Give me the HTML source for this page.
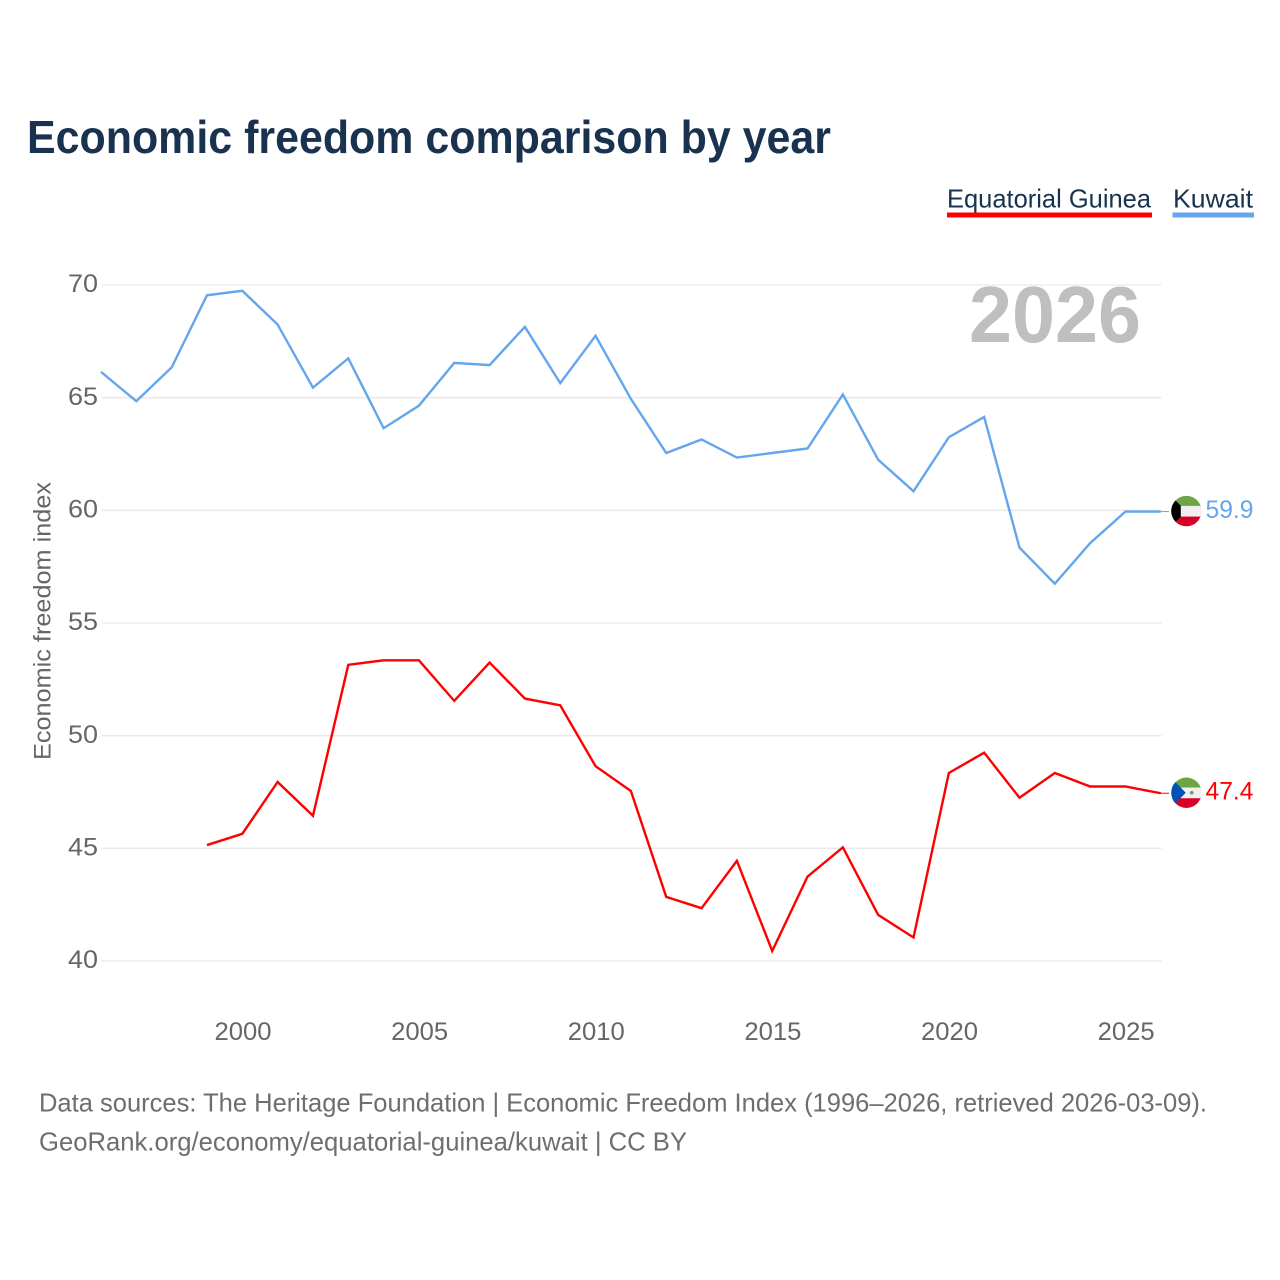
<!DOCTYPE html>
<html lang="en">
<head>
<meta charset="utf-8">
<title>Economic freedom comparison by year</title>
<style>
html,body{margin:0;padding:0;background:#fff;}
svg{display:block;font-family:"Liberation Sans",sans-serif;}
</style>
</head>
<body>
<svg id="chart" xmlns="http://www.w3.org/2000/svg" width="1280" height="1280" viewBox="0 0 1280 1280">
  <rect x="0" y="0" width="1280" height="1280" fill="#fff"/>
  <text x="27" y="152.8" font-size="46" font-weight="700" fill="#18324f" textLength="804" lengthAdjust="spacingAndGlyphs">Economic freedom comparison by year</text>

  <g>
    <text x="947" y="207.5" font-size="26" fill="#18324f" textLength="204" lengthAdjust="spacingAndGlyphs">Equatorial Guinea</text>
    <rect x="947" y="212.5" width="205" height="5" fill="#ff0000"/>
  </g>
  <g>
    <text x="1173" y="207.5" font-size="26" fill="#18324f" textLength="80" lengthAdjust="spacingAndGlyphs">Kuwait</text>
    <rect x="1172.5" y="212.5" width="81.5" height="5" fill="#64a6ec"/>
  </g>

  <g id="grid"></g>
  <g id="yticks"></g>
  <g id="xticks"></g>

  <text transform="translate(50.5,621) rotate(-90)" text-anchor="middle" font-size="24.5" fill="#666666" textLength="278" lengthAdjust="spacingAndGlyphs">Economic freedom index</text>

  <text x="969" y="342" font-size="80" font-weight="700" fill="#bfbfbf" textLength="172" lengthAdjust="spacingAndGlyphs">2026</text>

  <g id="series"></g>
  <g id="ends"></g>

  <g>
    <text x="39" y="1111.5" font-size="26" fill="#6e6e6e" textLength="1168" lengthAdjust="spacingAndGlyphs">Data sources: The Heritage Foundation | Economic Freedom Index (1996–2026, retrieved 2026-03-09).</text>
    <text x="39" y="1150.5" font-size="26" fill="#6e6e6e" textLength="648" lengthAdjust="spacingAndGlyphs">GeoRank.org/economy/equatorial-guinea/kuwait | CC BY</text>
  </g>
</svg>
<script>
const years = [1996,1997,1998,1999,2000,2001,2002,2003,2004,2005,2006,2007,2008,2009,2010,2011,2012,2013,2014,2015,2016,2017,2018,2019,2020,2021,2022,2023,2024,2025,2026];
const kuwaitValues = [66.1,64.8,66.3,69.5,69.7,68.2,65.4,66.7,63.6,64.6,66.5,66.4,68.1,65.6,67.7,64.9,62.5,63.1,62.3,62.5,62.7,65.1,62.2,60.8,63.2,64.1,58.3,56.7,58.5,59.9,59.9];
const guineaValues = [null,null,null,45.1,45.6,47.9,46.4,53.1,53.3,53.3,51.5,53.2,51.6,51.3,48.6,47.5,42.8,42.3,44.4,40.4,43.7,45.0,42.0,41.0,48.3,49.2,47.2,48.3,47.7,47.7,47.4];
const yTickValues = [40,45,50,55,60,65,70];
const xTickValues = [2000,2005,2010,2015,2020,2025];

const NS = 'http://www.w3.org/2000/svg';
const xMin = 1996, xMax = 2026, xLeft = 101.7, xRight = 1161.5;
const yMin = 40, yMax = 70, yBottom = 961, yTop = 285;
const markDx = -0.7, markDy = -1;
function xScale(v){ return xLeft + (v - xMin) * (xRight - xLeft) / (xMax - xMin); }
function yScale(v){ return yBottom - (v - yMin) * (yBottom - yTop) / (yMax - yMin); }
function make(tag, attrs, parent){
  const el = document.createElementNS(NS, tag);
  for (const k in attrs) el.setAttribute(k, attrs[k]);
  parent.appendChild(el);
  return el;
}

const grid = document.getElementById('grid');
const yticks = document.getElementById('yticks');
yTickValues.forEach(function(v){
  const line = make('line', {x1:xLeft, x2:xRight, y1:yScale(v), y2:yScale(v), stroke:'#e9e9e9', 'stroke-width':1.3}, grid);
  
  
  const t = make('text', {x:98, y:yScale(v)+7.2, 'text-anchor':'end', 'font-size':25, fill:'#666666', textLength:30, lengthAdjust:'spacingAndGlyphs'}, yticks);
  
  
  t.textContent = v;
});

const xticks = document.getElementById('xticks');
xTickValues.forEach(function(v){
  const t = make('text', {x:xScale(v), y:1040, 'text-anchor':'middle', 'font-size':25, fill:'#666666', textLength:57, lengthAdjust:'spacingAndGlyphs'}, xticks);
  
  
  t.textContent = v;
});

function pathFor(values){
  let d = '';
  values.forEach(function(v, i){
    if (v === null) return;
    d += (d ? 'L' : 'M') + (xScale(years[i]) + markDx).toFixed(2) + ' ' + (yScale(v) + markDy).toFixed(2);
  });
  return d;
}
function lastValue(values){ return values[values.length - 1]; }

const seriesLayer = document.getElementById('series');
const ends = document.getElementById('ends');

const kuwaitLine = make('path', {d:pathFor(kuwaitValues), fill:'none', stroke:'#64a6ec', 'stroke-width':2.4, 'stroke-linejoin':'miter'}, seriesLayer);



const guineaLine = make('path', {d:pathFor(guineaValues), fill:'none', stroke:'#ff0000', 'stroke-width':2.4, 'stroke-linejoin':'miter'}, seriesLayer);



const flagX = 1186.4;
const flagR = 15.2;

function drawEnd(slug, values, color, drawFlag){
  const y = yScale(lastValue(values)) + markDy;
  const cy = y - 0.5;
  const conn = make('line', {x1:xRight + markDx, x2:1169, y1:y, y2:y, stroke:color, 'stroke-width':1}, ends);
  
  

  const clip = make('clipPath', {id:'clip-' + slug}, ends);
  make('circle', {cx:flagX, cy:cy, r:flagR}, clip);

  const flag = make('g', {'clip-path':'url(#clip-' + slug + ')'}, ends);
  
  
  make('rect', {x:flagX-16, y:cy-16, width:32, height:11, fill:'#6da544'}, flag);
  make('rect', {x:flagX-16, y:cy-5.2, width:32, height:10.8, fill:'#f0f0f0'}, flag);
  make('rect', {x:flagX-16, y:cy+5.5, width:32, height:11, fill:'#d80027'}, flag);
  drawFlag(flag, cy);

  const label = make('text', {x:1205.5, y:y+6.2, 'font-size':25, fill:color, textLength:48, lengthAdjust:'spacingAndGlyphs'}, ends);
  
  
  label.textContent = lastValue(values).toFixed(1);
}

drawEnd('kuwait', kuwaitValues, '#64a6ec', function(flag, cy){
  const pts = [[flagX-16,cy-16],[flagX-5.6,cy-5.2],[flagX-5.6,cy+5.5],[flagX-16,cy+16]];
  make('polygon', {points:pts.map(function(p){return p.join(',');}).join(' '), fill:'#000000'}, flag);
});

drawEnd('equatorial-guinea', guineaValues, '#ff0000', function(flag, cy){
  const pts = [[flagX-16,cy-16],[flagX-0.7,cy],[flagX-16,cy+16]];
  make('polygon', {points:pts.map(function(p){return p.join(',');}).join(' '), fill:'#0052b4'}, flag);
  make('circle', {cx:flagX+5.3, cy:cy, r:1.9, fill:'#7f9a70'}, flag);
});
</script>
</body>
</html>
